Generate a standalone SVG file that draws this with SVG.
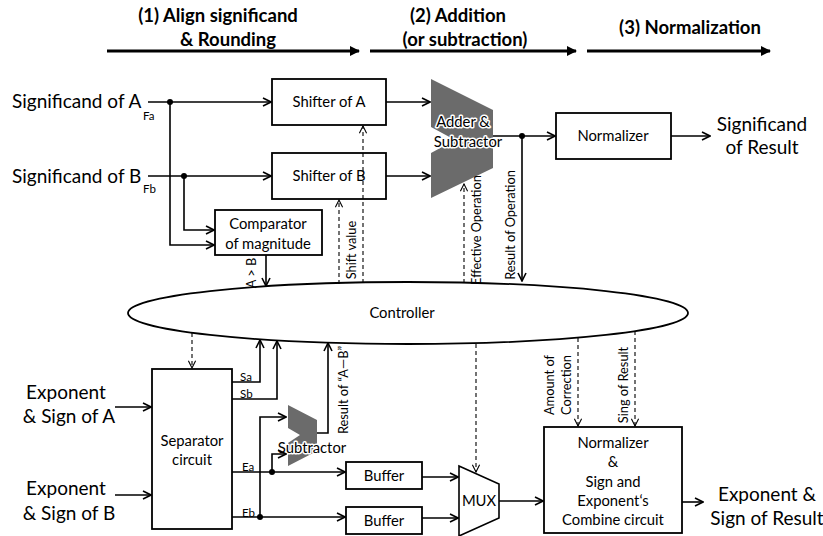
<svg xmlns="http://www.w3.org/2000/svg" width="823" height="536" viewBox="0 0 823 536">
<defs>
<style>
text{font-family:Lato,"Liberation Sans",sans-serif;fill:#000}
.hd{font-size:18.5px;font-weight:bold;text-anchor:middle}
.big{font-size:19px}
.bx{font-size:14.8px;text-anchor:middle}
.sm{font-size:11.5px}
.rot{font-size:12.8px;text-anchor:middle}
.box{fill:#fff;stroke:#000;stroke-width:1.8}
.ln{fill:none;stroke:#000;stroke-width:1.6}
.ds{fill:none;stroke:#000;stroke-width:1.1;stroke-dasharray:4 3}
.hl{stroke:#fff;stroke-width:3;paint-order:stroke;stroke-linejoin:round}
.gray{fill:#6b6b6b}
</style>
<marker id="a" viewBox="0 0 10 10" refX="9" refY="5" markerWidth="10" markerHeight="10" markerUnits="userSpaceOnUse" orient="auto"><path d="M1,1 L9,5 L1,9" fill="none" stroke="#000" stroke-width="1.6"/></marker>
<marker id="d" viewBox="0 0 10 10" refX="9" refY="5" markerWidth="9" markerHeight="9" markerUnits="userSpaceOnUse" orient="auto"><path d="M1,1 L9,5 L1,9" fill="none" stroke="#000" stroke-width="1.2"/></marker>
<marker id="h" viewBox="0 0 10 10" refX="9" refY="5" markerWidth="11" markerHeight="10" markerUnits="userSpaceOnUse" orient="auto"><path d="M0,0 L10,5 L0,10 Z" fill="#000"/></marker>
</defs>
<rect width="823" height="536" fill="#fff"/>

<g id="header">
<text class="hd" x="218" y="22">(1) Align significand</text>
<text class="hd" x="228" y="46">&amp; Rounding</text>
<text class="hd" x="458" y="22">(2) Addition</text>
<text class="hd" x="465" y="46">(or subtraction)</text>
<text class="hd" x="690" y="34">(3) Normalization</text>
<line x1="107" y1="51" x2="359" y2="51" stroke="#000" stroke-width="3" marker-end="url(#h)"/>
<line x1="370" y1="51" x2="576" y2="51" stroke="#000" stroke-width="3" marker-end="url(#h)"/>
<line x1="587" y1="51" x2="770" y2="51" stroke="#000" stroke-width="3" marker-end="url(#h)"/>
</g>

<g id="inputs">
<text class="big" x="12" y="108">Significand of A</text>
<text class="sm" x="143" y="120">Fa</text>
<text class="big" x="12" y="183">Significand of B</text>
<text class="sm" x="143" y="193">Fb</text>
<text class="big" x="66" y="399" text-anchor="middle">Exponent</text>
<text class="big" x="69" y="423" text-anchor="middle">&amp; Sign of A</text>
<text class="big" x="66" y="495" text-anchor="middle">Exponent</text>
<text class="big" x="69" y="520" text-anchor="middle">&amp; Sign of B</text>
</g>

<g id="shifterA"><rect class="box" x="272" y="79" width="114" height="46"/><text class="bx" x="329" y="107">Shifter of A</text></g>
<g id="shifterB"><rect class="box" x="272" y="153" width="114" height="46"/><text class="bx" x="329" y="181">Shifter of B</text></g>
<g id="comparator"><rect class="box" x="215" y="210" width="107" height="45"/><text class="bx" x="268" y="229">Comparator</text><text class="bx" x="268" y="249">of magnitude</text></g>

<g id="adder">
<polygon class="gray" points="431,79 493,110 493,168 431,198 431,153 455,140 431,127"/>
<text class="bx hl" x="463" y="127">Adder &amp;</text>
<text class="bx hl" x="468" y="147">Subtractor</text>
</g>

<g id="normalizer"><rect class="box" x="556" y="113" width="115" height="46"/><text class="bx" x="613" y="141">Normalizer</text></g>
<g id="sigResult"><text class="big" x="762" y="131" text-anchor="middle">Significand</text><text class="big" x="762" y="154" text-anchor="middle">of Result</text></g>

<g id="controller"><ellipse cx="408" cy="313" rx="280" ry="31" fill="#fff" stroke="#000" stroke-width="1.8"/><text class="bx" x="402" y="318">Controller</text></g>

<g id="separator"><rect class="box" x="152" y="369" width="80" height="160"/><text class="bx" x="192" y="446">Separator</text><text class="bx" x="192" y="465">circuit</text></g>

<g id="subtractor">
<polygon class="gray" points="288,405 317,420 317,451 288,466 288,443 300,435 288,428"/>
<text class="bx hl" x="312" y="453">Subtractor</text>
</g>

<g id="buffer1"><rect class="box" x="346" y="462" width="76" height="27"/><text class="bx" x="384" y="481">Buffer</text></g>
<g id="buffer2"><rect class="box" x="346" y="507" width="76" height="27"/><text class="bx" x="384" y="526">Buffer</text></g>

<g id="mux"><polygon points="459,466 499,484 499,518 459,536" fill="#fff" stroke="#000" stroke-width="1.6"/><text class="bx" x="479" y="506">MUX</text></g>

<g id="combine"><rect class="box" x="544" y="427" width="138" height="106"/>
<text class="bx" x="613" y="448">Normalizer</text>
<text class="bx" x="613" y="467">&amp;</text>
<text class="bx" x="613" y="487">Sign and</text>
<text class="bx" x="613" y="506">Exponent‘s</text>
<text class="bx" x="613" y="525">Combine circuit</text>
</g>
<g id="expResult"><text class="big" x="767" y="501" text-anchor="middle">Exponent &amp;</text><text class="big" x="767" y="525" text-anchor="middle">Sign of Result</text></g>

<g id="connectors">
<line class="ln" x1="148" y1="102" x2="271" y2="102" marker-end="url(#a)"/>
<line class="ln" x1="148" y1="176" x2="271" y2="176" marker-end="url(#a)"/>
<polyline class="ln" points="170,102 170,245 214,245" marker-end="url(#a)"/>
<polyline class="ln" points="184,176 184,230 214,230" marker-end="url(#a)"/>
<circle cx="170" cy="102" r="3"/>
<circle cx="184" cy="176" r="3"/>
<line class="ln" x1="386" y1="102" x2="430" y2="102" marker-end="url(#a)"/>
<line class="ln" x1="386" y1="176" x2="430" y2="176" marker-end="url(#a)"/>
<line class="ln" x1="493" y1="136" x2="555" y2="136" marker-end="url(#a)"/>
<circle cx="522" cy="136" r="3"/>
<line class="ln" x1="522" y1="136" x2="522" y2="281" marker-end="url(#a)"/>
<line class="ln" x1="671" y1="136" x2="710" y2="136" marker-end="url(#a)"/>
<line class="ln" x1="266" y1="255" x2="266" y2="286" marker-end="url(#a)"/>
<line class="ds" x1="339" y1="284" x2="339" y2="200" marker-end="url(#d)"/>
<line class="ds" x1="363" y1="283" x2="363" y2="126" marker-end="url(#d)"/>
<line class="ds" x1="464" y1="283" x2="464" y2="184" marker-end="url(#d)"/>
<line class="ds" x1="192" y1="333" x2="192" y2="368" marker-end="url(#d)"/>
<line class="ln" x1="115" y1="407" x2="151" y2="407" marker-end="url(#a)"/>
<line class="ln" x1="115" y1="495" x2="151" y2="495" marker-end="url(#a)"/>
<polyline class="ln" points="232,382 260,382 260,340" marker-end="url(#a)"/>
<polyline class="ln" points="232,399 277,399 277,341" marker-end="url(#a)"/>
<line class="ln" x1="232" y1="472" x2="345" y2="472" marker-end="url(#a)"/>
<line class="ln" x1="232" y1="517" x2="345" y2="517" marker-end="url(#a)"/>
<polyline class="ln" points="272,472 272,454 286,454" marker-end="url(#a)"/>
<polyline class="ln" points="260,517 260,417 286,417" marker-end="url(#a)"/>
<circle cx="272" cy="472" r="3"/>
<circle cx="260" cy="517" r="3"/>
<polyline class="ln" points="317,433 328,433 328,343" marker-end="url(#a)"/>
<line class="ln" x1="422" y1="477" x2="458" y2="477" marker-end="url(#a)"/>
<line class="ln" x1="422" y1="518" x2="458" y2="518" marker-end="url(#a)"/>
<line class="ds" x1="476" y1="344" x2="476" y2="472" marker-end="url(#d)"/>
<line class="ln" x1="499" y1="501" x2="543" y2="501" marker-end="url(#a)"/>
<line class="ds" x1="578" y1="338" x2="578" y2="426" marker-end="url(#d)"/>
<line class="ds" x1="635" y1="331" x2="635" y2="426" marker-end="url(#d)"/>
<line class="ln" x1="682" y1="502" x2="703" y2="502" marker-end="url(#a)"/>
</g>

<g id="labels">
<text class="sm" x="240" y="381">Sa</text>
<text class="sm" x="240" y="398">Sb</text>
<text class="sm" x="242" y="471">Ea</text>
<text class="sm" x="242" y="517">Eb</text>
<text class="rot" transform="translate(256,273) rotate(-90)">A &gt; B</text>
<text class="rot" transform="translate(356,250) rotate(-90)">Shift value</text>
<text class="rot" transform="translate(481,230) rotate(-90)">Effective Operation</text>
<text class="rot" transform="translate(515,225) rotate(-90)">Result of Operation</text>
<text class="rot" transform="translate(348,390) rotate(-90)">Result of “A—B”</text>
<text class="rot" transform="translate(554,385) rotate(-90)">Amount of</text>
<text class="rot" transform="translate(571,385) rotate(-90)">Correction</text>
<text class="rot" transform="translate(628,385) rotate(-90)">Sing of Result</text>
</g>
</svg>
